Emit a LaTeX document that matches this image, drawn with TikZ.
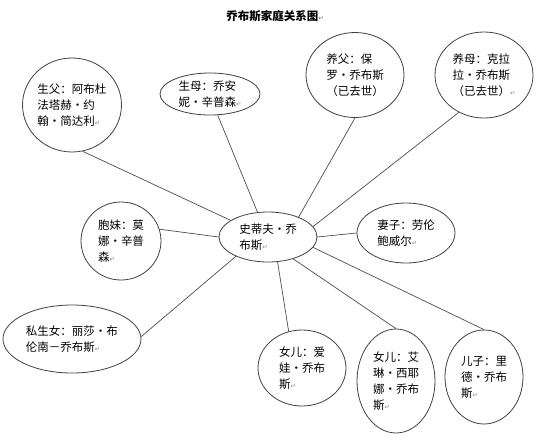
\documentclass[tikz,border=0pt]{standalone}
\usepackage{fontspec}
\setmainfont{Noto Sans CJK SC}
\newfontfamily\symfont{DejaVu Sans}
\usetikzlibrary{shapes.geometric}
\newcommand{\pmark}{{\symfont\fontsize{6.5}{6.5}\selectfont\textcolor{black!45}{↵}}}

\tikzset{
  person/.style={draw=black!75, ellipse, line width=0.8pt, inner sep=0pt, align=left,
    font=\fontsize{11.5}{16}\selectfont},
  link/.style={draw=black!70, line width=0.7pt}
}

\begin{document}
\begin{tikzpicture}[x=1pt,y=-1pt]
    \useasboundingbox (0,0) rectangle (550,440);
    \node[font=\bfseries\fontsize{11.5}{14}\selectfont] (title) at (275,16) {乔布斯家庭关系图\pmark};
    \node[person,minimum width=98pt,minimum height=50pt] (steve) at (268,237) {史蒂夫·乔\\布斯\pmark};
    \node[person,minimum width=99pt,minimum height=94pt] (father) at (72,105) {生父：阿布杜\\法塔赫·约\\翰·简达利\pmark};
    \node[person,minimum width=100pt,minimum height=42pt] (mother) at (210,94) {生母：乔安\\妮·辛普森\pmark};
    \node[person,minimum width=98pt,minimum height=85pt] (adfather) at (355,75) {养父：保\\罗·乔布斯\\（已去世）};
    \node[person,minimum width=98pt,minimum height=86pt] (admother) at (484,75) {养母：克拉\\拉·乔布斯\\（已去世）\pmark};
    \node[person,minimum width=80pt,minimum height=78pt] (sister) at (121,241) {胞妹：莫\\娜·辛普\\森\pmark};
    \node[person,minimum width=98pt,minimum height=60pt] (wife) at (406,233) {妻子：劳伦\\鲍威尔\pmark};
    \node[person,minimum width=138pt,minimum height=68pt] (lisa) at (72,339) {私生女：丽莎·布\\伦南－乔布斯\pmark};
    \node[person,minimum width=88pt,minimum height=76pt] (eve) at (302,368) {女儿：爱\\娃·乔布\\斯\pmark};
    \node[person,minimum width=78pt,minimum height=104pt] (erin) at (396,381) {女儿：艾\\琳·西耶\\娜·乔布\\斯\pmark};
    \node[person,minimum width=78pt,minimum height=94pt] (reed) at (484,377) {儿子：里\\德·乔布\\斯\pmark};
    \draw[link] (father.283) -- (steve.156);
    \draw[link] (mother.290) -- (steve.113);
    \draw[link] (adfather.270) -- (steve.33);
    \draw[link] (admother.236) -- (steve.13);
    \draw[link] (sister.17) -- (steve.180);
    \draw[link] (steve.0) -- (wife.180);
    \draw[link] (lisa.2) -- (steve.211);
    \draw[link] (steve.291) -- (eve.110);
    \draw[link] (steve.319) -- (erin.90);
    \draw[link] (steve.347) -- (reed.90);
  \end{tikzpicture}
\end{document}
